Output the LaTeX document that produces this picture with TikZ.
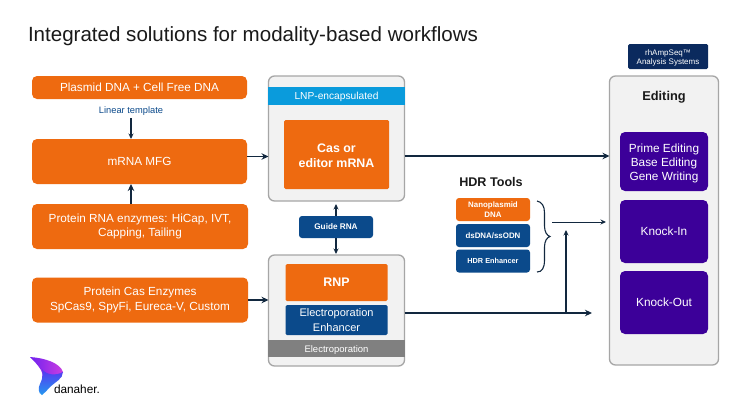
\documentclass[tikz,border=0pt]{standalone}
\usepackage{fontspec}
\setmainfont{Liberation Sans}
\usetikzlibrary{arrows.meta}
\definecolor{cOrange}{HTML}{EE6A10}
\definecolor{cNavy}{HTML}{0B4A8B}
\definecolor{cDark}{HTML}{0B2A5E}
\definecolor{cPurple}{HTML}{3C0099}
\definecolor{cSky}{HTML}{0A9BDC}
\definecolor{cGrey}{HTML}{808080}
\definecolor{cPanel}{HTML}{F2F2F2}
\definecolor{cEdge}{HTML}{A6A6A6}
\definecolor{cLine}{HTML}{12283F}
\definecolor{cText}{HTML}{1A1A1A}
\definecolor{logoA}{HTML}{6A1FF0}
\definecolor{logoB}{HTML}{D040E0}
\definecolor{logoC}{HTML}{5A30F0}
\definecolor{logoD}{HTML}{20A0F0}
\newcommand{\nudge}[1]{\rule{0pt}{#1pt}}
\tikzset{
 every node/.style={inner sep=0pt,outer sep=0pt,align=center},
 sized/.style 2 args={minimum width=#1pt,minimum height=#2pt},
 box/.style={rounded corners=#1,text=white},
 box/.default=5pt,
 orangebox/.style={box,fill=cOrange},
 navybox/.style={box=3pt,fill=cNavy},
 purplebox/.style={box,fill=cPurple},
 panel/.style={rounded corners=6pt,fill=cPanel,draw=cEdge,line width=1.3pt},
 band/.style={text=white},
 arrowline/.style={draw=cLine,line width=1.7pt,-{Stealth[length=7pt,width=6.5pt]}},
 thinarrow/.style={draw=cLine,line width=1.2pt,-{Stealth[length=5.5pt,width=5pt]}},
}
\begin{document}
\begin{tikzpicture}[x=1pt,y=-1pt]
\useasboundingbox (0,0) rectangle (750,415);
\fill[white] (0,0) rectangle (750,415);
\node[anchor=west,text=cText,font=\fontsize{20.55}{24}\selectfont] (title) at (28,36) {Integrated solutions for modality-based workflows};
% left column
\node[orangebox,sized={215}{23},font=\fontsize{11.75}{14}\selectfont] (plasmid) at (139.5,87.5) {Plasmid DNA + Cell Free DNA};
\node[orangebox,sized={215}{45},font=\fontsize{11.75}{14}\selectfont] (mrna) at (139.5,161.5) {mRNA MFG};
\node[orangebox,sized={216}{45},font=\fontsize{11.75}{14.5}\selectfont] (enz) at (140,226.5) {Protein RNA enzymes: HiCap, IVT,\\Capping, Tailing};
\node[orangebox,sized={216}{45},font=\fontsize{11.75}{14.5}\selectfont] (cas) at (140,300) {Protein Cas Enzymes\\SpCas9, SpyFi, Eureca-V, Custom};
\node[text=cNavy,font=\fontsize{9.3}{11}\selectfont] (linear) at (131,111.5) {Linear template};
% LNP panel
\node[panel,sized={136}{125}] (lnp) at (336.5,138.5) {};
\node[band,fill=cSky,sized={137}{18},font=\fontsize{10.2}{12}\selectfont] (lnpband) at (336.5,95.5) {\nudge{10.3}LNP-encapsulated};
\node[box=1.5pt,fill=cOrange,sized={105}{69},font=\bfseries\fontsize{12.4}{15.5}\selectfont] (editor) at (336.5,154.5) {\nudge{11}Cas or\\editor mRNA};
% guide
\node[navybox,sized={74}{22},font=\bfseries\fontsize{8.2}{10}\selectfont] (guide) at (336,227) {Guide RNA};
% RNP panel
\node[panel,sized={136}{111}] (rnppanel) at (336.5,310.5) {};
\node[box=1.5pt,fill=cOrange,sized={102}{37},font=\bfseries\fontsize{12.4}{15}\selectfont] (rnp) at (336.5,282.5) {RNP};
\node[box=1.5pt,fill=cNavy,sized={102}{30},font=\fontsize{11}{14.3}\selectfont] (enh) at (336.5,320) {Electroporation\\Enhancer};
\node[band,fill=cGrey,sized={137}{17},font=\fontsize{9.5}{11}\selectfont] (ep) at (336.5,348.5) {\nudge{9}Electroporation};
% HDR
\node[text=cText,font=\bfseries\fontsize{12.6}{15}\selectfont] (hdrt) at (491,182) {HDR Tools};
\node[box=3pt,fill=cOrange,sized={74}{23},font=\bfseries\fontsize{7.9}{9.5}\selectfont] (nano) at (493,209.5) {Nanoplasmid\\DNA};
\node[navybox,sized={74}{23},font=\bfseries\fontsize{7.9}{9.5}\selectfont] (ds) at (493,235.5) {dsDNA/ssODN};
\node[navybox,sized={74}{23},font=\bfseries\fontsize{7.3}{9}\selectfont] (hdre) at (493,261) {HDR Enhancer};
\coordinate (bracetop) at (537,201);
\coordinate (bracebot) at (537,272);
\coordinate (bracetip) at (550,236.5);
\draw[cLine,line width=1.1pt] (bracetop) .. controls (542,202) and (544.5,206) .. (544.5,213) -- (544.5,226) .. controls (544.5,232) and (547,235.5) .. (bracetip) .. controls (547,237.5) and (544.5,241) .. (544.5,247) -- (544.5,260) .. controls (544.5,268) and (542,272) .. (bracebot);
% editing
\node[box=1.5pt,fill=cDark,sized={80}{25},font=\fontsize{8}{9.6}\selectfont] (rham) at (668,56.5) {\nudge{8.7}rhAmpSeq™\\Analysis Systems};
\node[panel,sized={109}{289}] (editing) at (664,220.5) {};
\node[text=cText,font=\bfseries\fontsize{12.8}{15}\selectfont] (edt) at (664,97.5) {Editing};
\node[purplebox,sized={88}{59},font=\fontsize{11.8}{14.2}\selectfont] (prime) at (664,161.5) {\nudge{12.5}Prime Editing\\Base Editing\\Gene Writing};
\node[purplebox,sized={88}{63},font=\fontsize{11.8}{14}\selectfont] (ki) at (664,231.5) {Knock-In};
\node[purplebox,sized={88}{63},font=\fontsize{11.8}{14}\selectfont] (ko) at (664,302.5) {Knock-Out};
% connectors
\coordinate (midin) at (552,222);
\coordinate (kiin) at (606,222);
\coordinate (rnpend) at (592,313);
\coordinate (join) at (566,313);
\coordinate (joinend) at (566,230);
\coordinate (lt) at (131,118);
\draw[thinarrow] (lt) -- (lt |- mrna.north);
\draw[arrowline] (enz.north -| lt) -- (mrna.south -| lt);
\draw[arrowline] ([yshift=5pt]mrna.east) -- ([yshift=5pt]mrna.east -| lnp.west);
\draw[arrowline] (cas.east) -- (cas.east -| rnppanel.west);
\draw[thinarrow] (guide.north) -- ([yshift=-3pt]guide.north |- lnp.south);
\draw[thinarrow] (guide.south) -- ([yshift=1pt]guide.south |- rnppanel.north);
\draw[arrowline] ([yshift=-1.5pt]lnp.east |- editor.center) -- ([yshift=-1.5pt]editing.west |- editor.center);
\draw[arrowline] (rnppanel.east |- rnpend) -- (rnpend);
\draw[thinarrow] (join) -- (joinend);
\draw[thinarrow,line width=0.9pt] (midin) -- (kiin);
% logo
\begin{scope}
\clip (30,357) .. controls (45,358) and (60,363) .. (63,372) .. controls (60,375) and (50,377) .. (42,378) .. controls (43,374) and (42,372) .. (41,370) .. controls (38,365) and (34,361) .. (30,357) -- cycle;
\shade[left color=logoA,right color=logoB] (28,355) rectangle (65,380);
\end{scope}
\begin{scope}
\clip (42,369) .. controls (46,375) and (56,376) .. (63,372) .. controls (63,379) and (55,382) .. (50,387) .. controls (47,390) and (45,393) .. (42,395) .. controls (38,393) and (38,388) .. (40,384) .. controls (43,378) and (43,374) .. (42,369) -- cycle;
\shade[top color=logoC,bottom color=logoD] (36,368) rectangle (65,397);
\end{scope}
\node[anchor=west,text=black,font=\fontsize{11.8}{14}\selectfont] (dan) at (54,389) {danaher.};
\end{tikzpicture}
\end{document}
